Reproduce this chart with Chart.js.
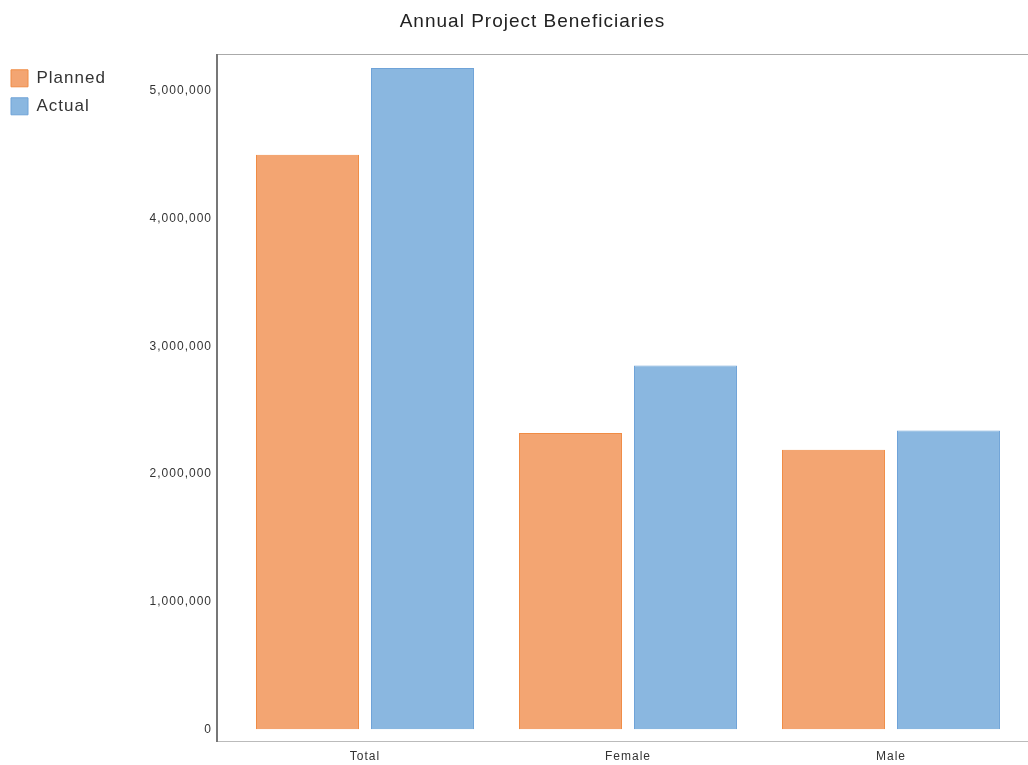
<!DOCTYPE html>
<html>
<head>
<meta charset="utf-8">
<title>Annual Project Beneficiaries</title>
<script src="https://cdn.jsdelivr.net/npm/chart.js@4.4.1/dist/chart.umd.min.js"></script>
<style>
  html, body { margin: 0; padding: 0; background: #fff; }
  .wrap { width: 1028px; height: 765px; }
</style>
</head>
<body>
<div class="wrap"><canvas id="myChart"></canvas></div>
<script>
'use strict';

// Data
var categories = ['Total', 'Female', 'Male'];
var planned = [4500000, 2320000, 2190000];
var actual = [5180000, 2850000, 2340000];
var yTicks = [0, 1000000, 2000000, 3000000, 4000000, 5000000];

// Slightly wider text tracking, like the original renderer
var tracking = {
  id: 'tracking',
  beforeUpdate: function(chart) { chart.ctx.letterSpacing = '1px'; },
  beforeDraw: function(chart) { chart.ctx.letterSpacing = '1px'; }
};

// Title sits a bit right of the canvas centre
var titleShift = {
  id: 'titleShift',
  afterLayout: function(chart) { chart.titleBlock.left += 37; }
};

Chart.defaults.font.family = '"Liberation Sans", Arial, sans-serif';
Chart.defaults.color = '#333';

var ctx = document.getElementById('myChart').getContext('2d');

var chart = new Chart(ctx, {
  type: 'bar',
  data: {
    labels: categories,
    datasets: [
      {
        label: 'Planned',
        backgroundColor: '#F3A572',
        borderColor: '#F08C45',
        borderWidth: 1,
        data: planned
      },
      {
        label: 'Actual',
        backgroundColor: '#8AB7E0',
        borderColor: '#6FA3D8',
        borderWidth: 1,
        data: actual
      }
    ]
  },
  plugins: [tracking, titleShift],
  options: {
    responsive: true,
    maintainAspectRatio: false,
    animation: false,
    categoryPercentage: 0.8745,
    barPercentage: 0.8957,
    layout: { padding: 0 },
    plugins: {
      title: {
        display: true,
        text: 'Annual Project Beneficiaries',
        color: '#222',
        font: { size: 19, weight: 'normal' },
        padding: { top: 10, bottom: 22 }
      },
      legend: {
        position: 'left',
        align: 'start',
        fullSize: false,
        // empty title only used as a small top gap
        title: { display: true, text: '', font: { size: 0 }, padding: { top: 4, bottom: 0 } },
        labels: {
          boxWidth: 17,
          boxHeight: 17,
          padding: 11,
          color: '#333',
          font: { size: 17 }
        }
      },
      tooltip: { enabled: false }
    },
    scales: {
      x: {
        grid: { display: false, drawTicks: false },
        border: { color: '#bbb', width: 1 },
        ticks: { padding: 8, font: { size: 12 }, color: '#333' },
        afterBuildTicks: function(scale) {
          // leave a little room between the y axis and the first group
          scale._startValue = -0.5627;
          scale._valueRange = 3.0837;
        },
        afterFit: function(scale) { scale.height = 24; }
      },
      xTop: {
        position: 'top',
        type: 'category',
        labels: categories,
        grid: { display: false, drawTicks: false },
        ticks: { display: false },
        border: { color: '#aaa', width: 1 }
      },
      y: {
        min: -91660,
        max: 5282400,
        grid: { display: false, drawTicks: false },
        border: { color: '#777', width: 2 },
        ticks: {
          stepSize: 1000000,
          includeBounds: false,
          padding: 5,
          font: { size: 12 },
          color: '#333',
          callback: function(v) { return v.toLocaleString('en-US'); }
        },
        afterBuildTicks: function(scale) {
          scale.ticks = yTicks.map(function(v) { return { value: v }; });
        },
        afterFit: function(scale) { scale.width = 217 - scale.chart.legend.width; }
      }
    }
  }
});
</script>
</body>
</html>
